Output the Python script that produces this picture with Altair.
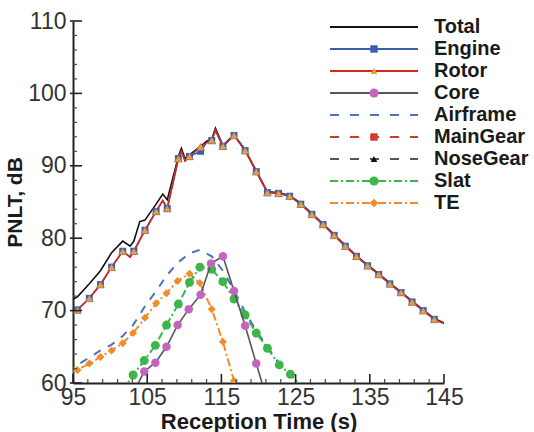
import altair as alt
import pandas as pd

# ---------------- data ----------------
total_t = [94.1, 95.6, 97.2, 98.7, 100.2, 101.7, 102.7, 103.2, 104.0, 104.7, 106.2, 107.1, 107.7,
           109.2, 109.6, 110.1, 110.7, 112.2, 113.0, 113.7, 114.2, 115.2, 116.7, 118.2, 119.7,
           121.2, 122.7, 124.2, 125.7, 127.2, 128.7, 130.2, 131.7, 133.2, 134.7, 136.2, 137.7,
           139.2, 140.7, 142.2, 143.7, 145.0]
total_db = [71.1, 71.9, 73.7, 75.5, 78.0, 79.6, 78.9, 79.6, 82.3, 82.5, 84.7, 86.1, 85.3,
            91.3, 92.4, 91.0, 91.5, 92.7, 93.4, 93.7, 95.2, 92.8, 94.3, 92.2, 89.3,
            86.4, 86.3, 85.9, 84.8, 83.4, 82.0, 80.5, 79.0, 77.6, 76.3, 75.1, 73.8,
            72.6, 71.3, 70.1, 68.9, 68.3]

main_t = [94.1, 95.6, 97.2, 98.7, 100.2, 101.7, 102.7, 103.2, 104.7, 106.2, 107.1, 107.7,
          109.2, 109.6, 110.1, 110.7, 112.2, 113.0, 113.7, 114.2, 115.2, 116.7, 118.2, 119.7,
          121.2, 122.7, 124.2, 125.7, 127.2, 128.7, 130.2, 131.7, 133.2, 134.7, 136.2, 137.7,
          139.2, 140.7, 142.2, 143.7, 145.0]
rotor_db = [69.7, 70.1, 71.7, 73.6, 76.0, 78.2, 77.4, 78.2, 81.1, 83.7, 85.2, 84.1,
            91.0, 92.0, 90.7, 91.3, 92.6, 93.2, 93.5, 94.9, 92.7, 94.2, 92.1, 89.2,
            86.3, 86.2, 85.8, 84.7, 83.3, 81.9, 80.4, 78.9, 77.5, 76.2, 75.0, 73.7,
            72.5, 71.2, 70.0, 68.8, 68.2]
engine_db = [69.7, 70.1, 71.7, 73.6, 76.0, 78.2, 77.4, 78.2, 81.1, 83.7, 85.2, 84.1,
             91.0, 92.0, 90.7, 91.3, 92.0, 93.2, 93.5, 94.9, 92.7, 94.2, 92.1, 89.2,
             86.3, 86.2, 85.8, 84.7, 83.3, 81.9, 80.4, 78.9, 77.5, 76.2, 75.0, 73.7,
             72.5, 71.2, 70.0, 68.8, 68.2]
main_marker_t = [95.6, 97.2, 98.7, 100.2, 101.7, 103.2, 104.7, 106.2, 107.7, 109.2, 110.7,
                 112.2, 113.7, 115.2, 116.7, 118.2, 119.7, 121.2, 122.7, 124.2, 125.7, 127.2,
                 128.7, 130.2, 131.7, 133.2, 134.7, 136.2, 137.7, 139.2, 140.7, 142.2, 143.7]

core_t = [103.1, 104.6, 106.1, 107.6, 109.1, 110.6, 112.2, 113.6, 115.2, 116.7, 118.2, 119.7, 121.2]
core_db = [58.6, 61.6, 62.8, 65.0, 68.0, 70.2, 72.2, 76.5, 77.5, 72.7, 67.9, 62.7, 57.5]

airframe_t = [94.1, 95.6, 97.2, 98.7, 100.2, 101.7, 103.1, 104.7, 106.2, 107.6, 109.1, 110.7,
              112.1, 113.7, 115.2, 116.7, 118.2, 119.7, 121.2, 122.8, 124.3, 125.8]
airframe_db = [61.7, 62.5, 63.5, 64.5, 65.3, 66.5, 68.0, 70.6, 72.7, 74.8, 76.6, 77.9,
               78.4, 77.5, 75.5, 72.8, 69.8, 67.2, 65.0, 62.7, 61.3, 59.6]

slat_t = [101.6, 103.1, 104.6, 106.1, 107.6, 109.2, 110.7, 112.1, 113.7, 115.2, 116.7, 118.2,
          119.7, 121.2, 122.8, 124.3, 125.8]
slat_db = [58.8, 61.1, 63.1, 65.2, 68.0, 70.9, 73.9, 76.0, 75.7, 74.0, 71.6, 69.4,
           66.9, 64.8, 62.5, 61.2, 59.5]

te_t = [94.1, 95.6, 97.2, 98.7, 100.2, 101.7, 103.1, 104.7, 106.2, 107.6, 109.1, 110.7,
        112.1, 113.7, 115.2, 116.7, 118.2]
te_db = [61.3, 61.8, 62.7, 63.6, 64.5, 65.5, 66.9, 69.0, 71.0, 72.4, 74.1, 75.1,
         73.8, 70.2, 65.7, 60.3, 55.0]

legend_names = ["Total", "Engine", "Rotor", "Core", "Airframe", "MainGear", "NoseGear", "Slat", "TE"]
legend_line_colors = ["#111111", "#3a5db0", "#d7261e", "#555555", "#5070c0", "#d03a30", "#555555",
                      "#3db54a", "#f28c28"]
legend_dashes = [[1, 0], [1, 0], [1, 0], [1, 0], [9, 11], [9, 11], [9, 11], [8, 3, 2, 3], [8, 3, 2, 3]]
legend_marker_names = ["Engine", "Rotor", "Core", "MainGear", "NoseGear", "Slat", "TE"]
legend_marker_shapes = ["square", "triangle-up", "circle", "square", "triangle-up", "circle", "diamond"]
legend_marker_colors = ["#3a5db0", "#f39c30", "#c564c0", "#d03a30", "#111111", "#3db54a", "#f28c28"]
legend_marker_sizes = [55, 45, 85, 55, 45, 85, 75]

x_major = [95, 105, 115, 125, 135, 145]
x_minor = [97, 99, 101, 103, 107, 109, 111, 113, 117, 119, 121, 123,
           127, 129, 131, 133, 137, 139, 141, 143]
y_major = [60, 70, 80, 90, 100, 110]
y_minor = [62, 64, 66, 68, 72, 74, 76, 78, 82, 84, 86, 88, 92, 94, 96, 98,
           102, 104, 106, 108]

# ---------------- chart ----------------
W, H = 371, 362
FONT = "Liberation Sans"

xs = alt.Scale(domain=[95, 145], nice=False, zero=False)
ys = alt.Scale(domain=[60, 110], nice=False, zero=False)
x_axis = alt.Axis(values=x_major, title="Reception Time (s)", labelPadding=3, titlePadding=2,
                  format="d", labelFlush=False)
y_axis = alt.Axis(values=y_major, title="PNLT, dB", labelPadding=7, titlePadding=2, format="d",
                  labelFlush=False)


def X(field="t"):
    return alt.X(f"{field}:Q", scale=xs, axis=x_axis)


def Y(field="db"):
    return alt.Y(f"{field}:Q", scale=ys, axis=y_axis)


def line_layer(t, v, color, width, dash=None):
    df = pd.DataFrame({"t": t, "db": v})
    kw = dict(color=color, strokeWidth=width, clip=True)
    if dash is not None:
        kw["strokeDash"] = dash
    return alt.Chart(df).mark_line(**kw).encode(x=X(), y=Y())


def point_layer(t, v, shape, color, size, stroke=None):
    df = pd.DataFrame({"t": t, "db": v})
    kw = dict(shape=shape, fill=color, size=size, filled=True, opacity=1, clip=True)
    if stroke is not None:
        kw.update(stroke=stroke, strokeWidth=0.8)
    else:
        kw.update(strokeWidth=0)
    return alt.Chart(df).mark_point(**kw).encode(x=X(), y=Y())


def marked(t, v, keep):
    pts = [(a, b) for a, b in zip(t, v) if a in keep]
    return [p[0] for p in pts], [p[1] for p in pts]


eng_mt, eng_mv = marked(main_t, engine_db, main_marker_t)
rot_mt, rot_mv = marked(main_t, rotor_db, main_marker_t)

data_layers = [
    line_layer(airframe_t, airframe_db, "#5070c0", 2, [8, 8]),
    line_layer(te_t, te_db, "#f28c28", 2, [8, 3, 2, 3]),
    point_layer(te_t, te_db, "diamond", "#f28c28", 65),
    line_layer(slat_t, slat_db, "#3db54a", 2, [8, 3, 2, 3]),
    point_layer(slat_t, slat_db, "circle", "#3db54a", 80),
    line_layer(core_t, core_db, "#555555", 1.6),
    point_layer(core_t, core_db, "circle", "#c564c0", 72),
    line_layer(total_t, total_db, "#111111", 1.6),
    line_layer(main_t, engine_db, "#3a5db0", 1.6),
    line_layer(main_t, rotor_db, "#d7261e", 1.6),
    point_layer(eng_mt, eng_mv, "square", "#3a5db0", 48),
    point_layer(rot_mt, rot_mv, "triangle-up", "#f39c30", 60, stroke="#8a7a80"),
]

# inward axis ticks
xt_major = alt.Chart(pd.DataFrame({"t": x_major})).mark_rule(color="#222222", strokeWidth=1.6).encode(
    x=X(), y=alt.value(H), y2=alt.value(H - 9))
xt_minor = alt.Chart(pd.DataFrame({"t": x_minor})).mark_rule(color="#444444", strokeWidth=1.2).encode(
    x=X(), y=alt.value(H), y2=alt.value(H - 4))
yt_major = alt.Chart(pd.DataFrame({"db": y_major})).mark_rule(color="#222222", strokeWidth=1.6).encode(
    y=Y(), x=alt.value(-3), x2=alt.value(9))
yt_minor = alt.Chart(pd.DataFrame({"db": y_minor})).mark_rule(color="#444444", strokeWidth=1.2).encode(
    y=Y(), x=alt.value(0), x2=alt.value(4))

main = alt.layer(*data_layers, xt_major, xt_minor, yt_major, yt_minor)

# legend
leg_df = pd.DataFrame({"name": legend_names, "lcolor": legend_line_colors})
leg_y = alt.Y("name:N", scale=alt.Scale(type="point", domain=legend_names, range=[6, 182], padding=0),
              axis=None)
leg_lines = alt.Chart(leg_df).mark_rule(strokeWidth=2).encode(
    y=leg_y, x=alt.value(257), x2=alt.value(345),
    color=alt.Color("lcolor:N", scale=None),
    strokeDash=alt.StrokeDash("name:N", scale=alt.Scale(domain=legend_names, range=legend_dashes),
                              legend=None))
leg_mk_df = pd.DataFrame({"name": legend_marker_names, "shape": legend_marker_shapes,
                          "mcolor": legend_marker_colors, "msize": legend_marker_sizes})
leg_marks = alt.Chart(leg_mk_df).mark_point(filled=True, opacity=1, strokeWidth=0).encode(
    y=leg_y, x=alt.value(301),
    shape=alt.Shape("shape:N", scale=None),
    size=alt.Size("msize:Q", scale=None),
    fill=alt.Fill("mcolor:N", scale=None))
leg_text = alt.Chart(leg_df).mark_text(align="left", baseline="middle", font=FONT, fontSize=20,
                                       fontWeight="bold", color="#1a1a1a").encode(
    y=leg_y, x=alt.value(361), text="name:N")
legend = alt.layer(leg_lines, leg_marks, leg_text)

chart = alt.layer(main, legend).resolve_scale(y="independent", color="independent").properties(
    width=W, height=H,
    autosize=alt.AutoSizeParams(type="none"),
    padding={"left": 73, "top": 21, "right": 90, "bottom": 49},
).configure_view(stroke=None).configure_axis(
    grid=False, ticks=False, tickSize=0, domainColor="#222222", domainWidth=2,
    labelFont=FONT, labelFontSize=23, labelColor="#333333",
    titleFont=FONT, titleFontSize=22, titleFontWeight="bold", titleColor="#1a1a1a",
).configure_axisY(titleFontSize=21)

chart.save("out.html", embed_options={"renderer": "svg", "actions": False})
